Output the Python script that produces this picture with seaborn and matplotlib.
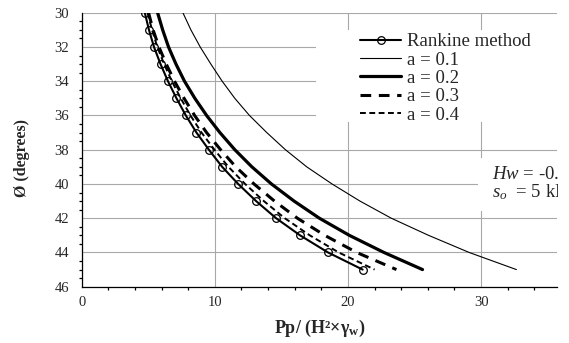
import matplotlib
matplotlib.use("Agg")
import matplotlib.pyplot as plt
import seaborn as sns
from matplotlib.patches import Rectangle
from matplotlib.ticker import MultipleLocator
from matplotlib.transforms import Bbox

# ---- data ----
phi = [30, 31, 32, 33, 34, 35, 36, 37, 38, 39, 40, 41, 42, 43, 44, 45]
rankine = [4.74, 5.05, 5.43, 5.92, 6.48, 7.12, 7.82, 8.62, 9.55, 10.55, 11.75, 13.1, 14.6, 16.4, 18.5, 21.1]
a01 = [7.6, 8.2, 8.9, 9.7, 10.55, 11.5, 12.6, 13.9, 15.3, 16.9, 18.8, 20.9, 23.25, 26.05, 29.1, 32.65]
a02 = [5.7, 6.08, 6.52, 7.08, 7.72, 8.5, 9.38, 10.38, 11.5, 12.78, 14.25, 15.95, 17.85, 20.1, 22.7, 25.6]
a03 = [5.02, 5.36, 5.8, 6.35, 6.97, 7.69, 8.48, 9.38, 10.43, 11.57, 12.94, 14.48, 16.2, 18.25, 20.65, 23.64]
a04 = [4.95, 5.28, 5.68, 6.19, 6.77, 7.44, 8.17, 9.0, 9.97, 11.02, 12.27, 13.68, 15.25, 17.13, 19.3, 22.0]
labels = ["Rankine method", "a = 0.1", "a = 0.2", "a = 0.3", "a = 0.4"]
xlabel = r"Pp/ (H²×γ$_\mathbf{w}$)"
ylabel = "Ø (degrees)"
note1 = r"$Hw$ = -0.5 m"
note2 = r"$s_o$  = 5 kPa"

sns.set_style("white")
plt.rcParams["font.family"] = ["Liberation Serif", "DejaVu Serif"]
plt.rcParams["mathtext.fontset"] = "custom"
plt.rcParams["mathtext.rm"] = "Liberation Serif"
plt.rcParams["mathtext.it"] = "Liberation Serif:italic"
plt.rcParams["mathtext.bf"] = "Liberation Serif:bold"

W, H = 569, 343
fig = plt.figure(figsize=(W / 100, H / 100), dpi=100)
x0, x1 = 81.7, 557.0
ytop, ybot = 12.7, 286.7
ax = fig.add_axes([x0 / W, (H - ybot) / H, (x1 - x0) / W, (ybot - ytop) / H])

sns.lineplot(x=a01, y=phi, ax=ax, sort=False, estimator=None, color="black",
             linewidth=0.8, label=labels[1], zorder=3)
sns.lineplot(x=a02, y=phi, ax=ax, sort=False, estimator=None, color="black",
             linewidth=2.3, label=labels[2], zorder=3)
sns.lineplot(x=a03, y=phi, ax=ax, sort=False, estimator=None, color="black",
             linewidth=2.2, linestyle=(0, (3.5, 2.5)), label=labels[3], zorder=3)
sns.lineplot(x=a04, y=phi, ax=ax, sort=False, estimator=None, color="black",
             linewidth=1.4, linestyle=(0, (3, 1.8)), label=labels[4], zorder=3)
sns.lineplot(x=rankine, y=phi, ax=ax, sort=False, estimator=None, color="black",
             linewidth=1.5, marker="o", markersize=5.5, mfc="none",
             mec="black", mew=0.9, label=labels[0], zorder=4)

ax.set_xlim(0, 35.7)
ax.set_ylim(46, 30)
ax.xaxis.set_major_locator(MultipleLocator(10))
ax.xaxis.set_minor_locator(MultipleLocator(2))
ax.yaxis.set_major_locator(MultipleLocator(2))
ax.yaxis.set_minor_locator(MultipleLocator(0.5))
ax.set_axisbelow(True)
ax.grid(True, which="major", color="#a8a8a8", linewidth=0.8)

for s in ["top", "right"]:
    ax.spines[s].set_visible(False)
for s in ["left", "bottom"]:
    ax.spines[s].set_color("black")
    ax.spines[s].set_linewidth(0.9)

ax.tick_params(which="both", direction="out", color="black", width=0.9)
ax.tick_params(which="major", length=3.6, labelsize=10.5)
ax.tick_params(which="minor", length=2.4)
ax.tick_params(axis="y", which="major", pad=5.5)
ax.tick_params(axis="x", which="major", pad=3)
ax.tick_params(axis="x", which="minor", bottom=True)
ax.tick_params(axis="y", which="minor", left=True)

# white background boxes of legend and note (they hide the grid)
ax.add_patch(Rectangle((17.6, 31.01), 35.7 - 17.6, 36.38 - 31.01,
                       facecolor="white", edgecolor="none", zorder=1))
ax.add_patch(Rectangle((29.8, 38.48), 35.7 - 29.8, 41.58 - 38.48,
                       facecolor="white", edgecolor="none", zorder=1))

ax.set_xlabel(xlabel, fontsize=13, fontweight="bold")
ax.xaxis.set_label_coords(0.5, (H - 318 - (H - ybot)) / (ybot - ytop))
ax.set_ylabel(ylabel, fontsize=11.5, fontweight="bold")
ax.yaxis.set_label_coords((30 - x0) / (x1 - x0), (H - 158 - (H - ybot)) / (ybot - ytop))

h, l = ax.get_legend_handles_labels()
order = [l.index(s) for s in labels]
leg = ax.legend([h[i] for i in order], [l[i] for i in order],
                loc="upper left", bbox_to_anchor=(360 / W, (H - 33) / H),
                bbox_transform=fig.transFigure, frameon=False, borderpad=0,
                borderaxespad=0, handlelength=2.2, handletextpad=0.32,
                labelspacing=0.07, fontsize=13.5, numpoints=1)

clip = Bbox.from_extents(0, 0, 558, H)
for txt, yc in [(note1, 174.5), (note2, 192.5)]:
    t = fig.text(492 / W, (H - yc) / H, txt, fontsize=13.5, va="center", ha="left")
    t.set_clip_box(clip)
    t.set_clip_on(True)

fig.savefig("out.png", dpi=100)
